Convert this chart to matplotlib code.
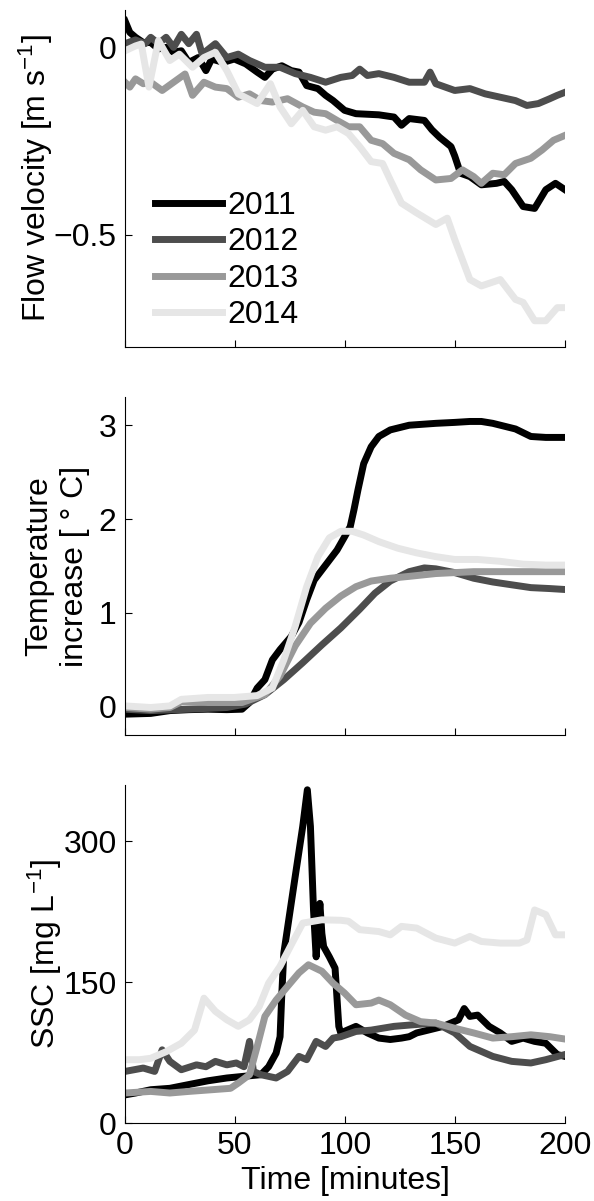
import matplotlib
matplotlib.use('Agg')
import matplotlib.pyplot as plt

plt.rcParams['font.family'] = ['Liberation Sans', 'DejaVu Sans']
plt.rcParams['mathtext.default'] = 'regular'
plt.rcParams['font.size'] = 23

years = ['2011', '2012', '2013', '2014']
colors = ['#000000', '#4d4d4d', '#999999', '#e6e6e6']

# flow velocity [m/s]
vel_t = {
    '2011': [0, 2.2, 4.8, 8.3, 11.7, 15.2, 18.7, 22.1, 25.6, 29.0, 33.3, 36.8, 39.4, 44.6, 49.7, 54.9,
             60.1, 63.6, 67.0, 71.3, 75.6, 79.1, 82.6, 87.7, 91.2, 94.6, 99.8, 105.0, 115.4, 122.3, 125.7,
             129.2, 136.1, 139.5, 143.0, 148.2, 149.9, 152.5, 156.8, 162.0, 168.9, 172.4, 175.8, 181.0,
             186.2, 191.3, 195.7, 200],
    '2012': [0, 4.8, 9.2, 11.7, 15.2, 18.7, 22.1, 25.6, 29.0, 32.5, 35.1, 41.1, 46.3, 51.5, 56.6, 63.6,
             70.5, 77.4, 84.3, 91.2, 98.1, 103.3, 106.7, 110.2, 115.4, 122.3, 129.2, 136.1, 138.7, 141.3,
             149.9, 156.8, 163.7, 170.6, 177.5, 182.7, 187.9, 193.1, 196.5, 200],
    '2013': [0, 2.2, 4.8, 8.3, 11.7, 16.9, 22.1, 27.3, 30.7, 35.9, 41.1, 46.3, 51.5, 56.6, 61.8, 67.0,
             73.9, 80.8, 86.0, 91.2, 96.4, 101.6, 106.7, 111.9, 117.1, 122.3, 129.2, 134.4, 141.3, 148.2,
             153.4, 158.5, 162.0, 167.2, 172.4, 177.5, 184.5, 189.6, 194.8, 200],
    '2014': [0, 4.8, 7.4, 10.9, 15.2, 20.4, 24.7, 30.7, 35.9, 41.1, 46.3, 51.5, 60.1, 66.1, 70.5, 75.6,
             80.8, 86.0, 91.2, 96.4, 101.6, 106.7, 111.9, 117.1, 120.6, 125.7, 132.6, 141.3, 146.5, 149.9,
             156.8, 162.0, 170.6, 177.5, 181.0, 186.2, 191.3, 196.5, 200],
}
vel = {
    '2011': [0.071, 0.04, 0.027, 0.013, 0.013, -0.004, 0.0, -0.013, -0.009, -0.04, -0.027, -0.062, -0.031,
             -0.04, -0.031, -0.044, -0.066, -0.08, -0.058, -0.049, -0.062, -0.066, -0.102, -0.11, -0.128,
             -0.142, -0.168, -0.177, -0.18, -0.186, -0.208, -0.19, -0.195, -0.22, -0.24, -0.265, -0.29,
             -0.336, -0.345, -0.367, -0.363, -0.358, -0.38, -0.425, -0.43, -0.38, -0.363, -0.38],
    '2012': [0.01, 0.02, 0.01, 0.027, 0.01, 0.027, 0.0, 0.035, 0.01, 0.035, -0.018, 0.01, -0.027, -0.018,
             -0.035, -0.053, -0.053, -0.07, -0.08, -0.093, -0.08, -0.075, -0.058, -0.075, -0.07, -0.08,
             -0.093, -0.093, -0.066, -0.097, -0.115, -0.11, -0.124, -0.133, -0.142, -0.155, -0.15, -0.137,
             -0.128, -0.12],
    '2013': [-0.093, -0.106, -0.084, -0.097, -0.093, -0.115, -0.093, -0.071, -0.128, -0.093, -0.106, -0.11,
             -0.133, -0.124, -0.142, -0.146, -0.137, -0.159, -0.173, -0.177, -0.195, -0.212, -0.212, -0.248,
             -0.257, -0.283, -0.3, -0.327, -0.354, -0.35, -0.327, -0.345, -0.363, -0.336, -0.34, -0.31,
             -0.296, -0.274, -0.248, -0.235],
    '2014': [-0.009, 0.004, 0.009, -0.106, 0.018, -0.035, -0.018, -0.053, -0.027, -0.013, -0.062, -0.124,
             -0.15, -0.097, -0.159, -0.204, -0.168, -0.212, -0.221, -0.212, -0.23, -0.265, -0.305, -0.31,
             -0.354, -0.416, -0.442, -0.473, -0.456, -0.513, -0.62, -0.637, -0.62, -0.673, -0.681, -0.73,
             -0.73, -0.695, -0.695],
}

# temperature increase [deg C]
temp_t = {
    '2011': [0, 11.7, 20.4, 29.0, 37.7, 46.3, 53.2, 56.6, 60.1, 63.6, 67.0, 70.5, 75.6, 79.1, 82.6, 86.0,
             91.2, 96.4, 99.8, 102.4, 104.1, 105.9, 108.5, 111.9, 115.4, 120.6, 129.2, 141.3, 149.9, 156.8,
             162.0, 167.2, 177.5, 184.5, 191.3, 200],
    '2012': [0, 11.7, 29.0, 46.3, 54.9, 63.6, 72.2, 80.8, 89.5, 98.1, 106.7, 113.6, 120.6, 129.2, 136.1,
             141.3, 149.9, 158.5, 167.2, 175.8, 184.5, 193.1, 200],
    '2013': [0, 11.7, 20.4, 25.6, 37.7, 53.2, 63.6, 70.5, 77.4, 84.3, 91.2, 98.1, 105.0, 111.9, 120.6,
             129.2, 141.3, 158.5, 175.8, 200],
    '2014': [0, 11.7, 20.4, 25.6, 37.7, 49.7, 60.1, 67.0, 72.2, 77.4, 82.6, 87.7, 92.9, 98.1, 103.3,
             108.5, 115.4, 124.0, 132.6, 141.3, 149.9, 160.3, 170.6, 181.0, 191.3, 200],
}
temp = {
    '2011': [-0.078, -0.07, -0.04, -0.03, -0.025, -0.03, -0.025, 0.046, 0.2, 0.29, 0.5, 0.61, 0.75, 0.9,
             1.14, 1.35, 1.51, 1.67, 1.81, 1.92, 2.1, 2.31, 2.59, 2.77, 2.88, 2.95, 3.0, 3.02, 3.03, 3.04,
             3.04, 3.02, 2.96, 2.88, 2.87, 2.87],
    '2012': [-0.025, -0.04, -0.025, -0.007, 0.03, 0.13, 0.29, 0.47, 0.66, 0.84, 1.04, 1.21, 1.34, 1.44,
             1.48, 1.47, 1.43, 1.37, 1.33, 1.30, 1.27, 1.26, 1.25],
    '2013': [-0.007, -0.025, -0.007, 0.053, 0.046, 0.046, 0.13, 0.33, 0.65, 0.89, 1.05, 1.18, 1.28, 1.34,
             1.37, 1.39, 1.42, 1.44, 1.44, 1.44],
    '2014': [0.01, -0.007, 0.01, 0.08, 0.1, 0.1, 0.12, 0.2, 0.5, 0.86, 1.28, 1.6, 1.8, 1.87, 1.87, 1.83,
             1.76, 1.69, 1.64, 1.6, 1.57, 1.57, 1.55, 1.52, 1.51, 1.51],
}

# suspended sediment concentration [mg/L]
ssc_t = {
    '2011': [0, 4.8, 11.7, 20.4, 29.0, 37.7, 46.3, 54.9, 61.8, 65.3, 68.7, 70.5, 71.3, 72.2, 77.4, 80.8,
             82.9, 84.3, 85.7, 86.9, 88.6, 89.5, 90.3, 92.9, 95.5, 97.2, 98.1, 105.0, 110.2, 115.4, 120.6,
             125.7, 129.2, 132.6, 137.8, 144.7, 151.6, 154.2, 156.8, 160.3, 165.5, 170.6, 175.8, 181.0,
             186.2, 191.3, 196.5, 200],
    '2012': [0, 8.3, 13.5, 16.9, 20.4, 25.6, 32.5, 36.8, 41.1, 46.3, 50.6, 54.1, 56.6, 58.4, 61.8, 68.7,
             73.9, 79.1, 82.6, 86.9, 91.2, 94.6, 98.1, 105.0, 111.9, 122.3, 132.6, 141.3, 149.9, 156.8,
             167.2, 175.8, 184.5, 191.3, 200],
    '2013': [0, 11.7, 20.4, 29.0, 39.4, 48.0, 51.5, 56.6, 60.1, 63.6, 68.7, 73.9, 79.1, 83.4, 89.5, 94.6,
             99.8, 105.0, 111.9, 115.4, 120.6, 127.5, 134.4, 141.3, 149.9, 158.5, 167.2, 175.8, 184.5,
             193.1, 200],
    '2014': [0, 6.6, 11.7, 18.7, 25.6, 31.6, 35.9, 41.1, 46.3, 51.5, 56.6, 61.0, 65.3, 70.5, 75.6, 80.8,
             89.5, 98.1, 101.6, 106.7, 115.4, 120.6, 125.7, 132.6, 141.3, 149.9, 156.8, 162.0, 170.6,
             179.3, 182.7, 186.2, 191.3, 195.7, 200],
}
ssc = {
    '2011': [30, 32, 35.5, 37, 41, 45, 48, 50, 51.5, 60, 74.5, 92, 138, 181, 263, 316, 355, 316, 227, 177,
             234, 202, 188, 177, 165, 103, 96, 103, 96, 90.5, 89, 90.5, 92, 96, 99, 103, 110, 122, 113.6,
             115, 103, 96, 87, 90.5, 87, 85, 73, 71],
    '2012': [55, 58.6, 55, 78, 65.7, 56.8, 62, 60, 65.7, 62, 64, 60, 87, 55, 51.5, 48, 55, 71, 67.5, 87,
             81.6, 90.5, 92, 97.6, 99, 103, 105, 106.5, 96, 81.6, 71, 65.7, 64, 67.5, 73],
    '2013': [32, 33.7, 32, 33.7, 35.5, 37, 42.6, 51.5, 81.6, 113.6, 131, 145.6, 160, 168.6, 161.7, 149,
             138.5, 126, 127.8, 131, 126, 115, 108, 106.5, 101, 96, 90.5, 92, 94, 92, 89.5],
    '2014': [67.5, 67.5, 69, 76, 85, 99, 133, 119, 110, 103, 110, 124, 149, 167, 190, 213, 216.5, 216,
             215, 206, 204, 200.5, 209.5, 207.7, 197, 191.7, 198.8, 193.4, 191.7, 191.7, 195, 227, 222,
             200.5, 200.5],
}

fig = plt.figure(figsize=(5.94, 12.01), dpi=100)
ax1 = fig.add_axes([0.2104, 0.7111, 0.7407, 0.2806])
ax2 = fig.add_axes([0.2104, 0.3880, 0.7407, 0.2814])
ax3 = fig.add_axes([0.2104, 0.0649, 0.7407, 0.2814])

for y, c in zip(years, colors):
    ax1.plot(vel_t[y], vel[y], color=c, lw=5, label=y)
    ax2.plot(temp_t[y], temp[y], color=c, lw=5)
    ax3.plot(ssc_t[y], ssc[y], color=c, lw=5)

ax1.set_ylim(-0.8, 0.1)
ax1.set_yticks([-0.5, 0])
ax1.set_yticklabels(['\u22120.5', '0'])
ax2.set_ylim(-0.3, 3.3)
ax2.set_yticks([0, 1, 2, 3])
ax3.set_ylim(0, 360)
ax3.set_yticks([0, 150, 300])

for ax in (ax1, ax2, ax3):
    ax.set_xlim(0, 200)
    ax.set_xticks([0, 50, 100, 150, 200])
    ax.spines['top'].set_visible(False)
    ax.spines['right'].set_visible(False)
    ax.tick_params(direction='in', length=5, width=0.8, labelsize=23, pad=6)
ax1.set_xticklabels([])
ax2.set_xticklabels([])

ax1.set_ylabel('Flow velocity [m s$^{-1}$]', fontsize=23)
ax1.yaxis.set_label_coords(-0.158, 0.5)
ax2.set_ylabel('Temperature\nincrease [ \u00b0 C]', fontsize=23, linespacing=1.25)
ax2.yaxis.set_label_coords(-0.08, 0.5)
ax3.set_ylabel('SSC [mg L$^{-1}$]', fontsize=23)
ax3.yaxis.set_label_coords(-0.138, 0.5)
ax3.set_xlabel('Time [minutes]', fontsize=23, labelpad=3)

ax1.legend(loc='lower left', bbox_to_anchor=(0.04, 0.012), frameon=False, fontsize=23,
           handlelength=2.1, handletextpad=0.15, labelspacing=0.2, borderaxespad=0)

fig.savefig('out.png', dpi=100)
